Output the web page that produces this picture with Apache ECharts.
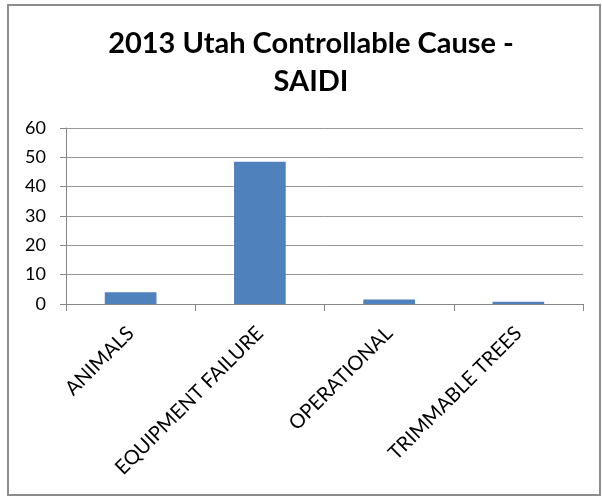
<!DOCTYPE html>
<html>
<head>
<meta charset="utf-8">
<style>
  html, body { margin: 0; padding: 0; background: #fff; }
  #chart { width: 602px; height: 496px; }
</style>
<script src="https://cdn.jsdelivr.net/npm/echarts@6/dist/echarts.min.js"></script>
</head>
<body>
<div id="chart"></div>
<script>
// SAIDI minutes by controllable outage cause, Utah 2013
const categories = ['ANIMALS', 'EQUIPMENT FAILURE', 'OPERATIONAL', 'TRIMMABLE TREES'];
const saidi = [4.0, 48.5, 1.5, 0.8];
const yTicks = { min: 0, max: 60, interval: 10 };

const font = 'Lato, "Open Sans", sans-serif';
const chart = echarts.init(document.getElementById('chart'), null, { renderer: 'canvas' });

chart.setOption({
  backgroundColor: '#ffffff',
  animation: false,
  graphic: [{
    type: 'rect',
    shape: { x: 8, y: 5, width: 592, height: 490 },
    style: { fill: 'none', stroke: '#8c8c8c', lineWidth: 2 },
    silent: true
  }],
  title: {
    text: '2013 Utah Controllable Cause -\nSAIDI',
    left: 306,
    textAlign: 'center',
    top: 20,
    textStyle: {
      fontFamily: font,
      fontWeight: 'bold',
      fontSize: 29,
      lineHeight: 38,
      color: '#000'
    }
  },
  grid: { left: 66, right: 19, top: 128, bottom: 192, containLabel: false },
  xAxis: {
    type: 'category',
    data: categories,
    boundaryGap: true,
    axisLine: { lineStyle: { color: '#868686', width: 1 } },
    axisTick: { show: true, length: 7, lineStyle: { color: '#868686' } },
    axisLabel: {
      rotate: 45,
      margin: 26,
      fontFamily: font,
      fontSize: 20,
      color: '#000'
    }
  },
  yAxis: {
    type: 'value',
    min: yTicks.min,
    max: yTicks.max,
    interval: yTicks.interval,
    axisLine: { show: true, lineStyle: { color: '#868686', width: 1 } },
    axisTick: { show: true, length: 6, lineStyle: { color: '#868686' } },
    axisLabel: {
      margin: 20,
      fontFamily: font,
      fontSize: 18,
      color: '#000'
    },
    splitLine: { lineStyle: { color: '#999999', width: 1 } }
  },
  series: [{
    type: 'bar',
    data: saidi,
    barWidth: '40%',
    itemStyle: { color: '#4f81bd' }
  }]
});
</script>
</body>
</html>
